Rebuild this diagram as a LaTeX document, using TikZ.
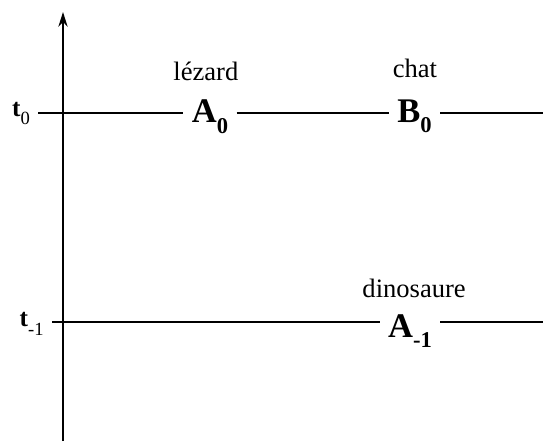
\documentclass[tikz,border=0pt]{standalone}
\usepackage{fontspec}
\setmainfont{Liberation Serif}
\usetikzlibrary{arrows.meta}

\newcommand{\evsub}[1]{\raisebox{-8pt}{\fontsize{17}{17}\selectfont #1}}
\newcommand{\tsub}[1]{\raisebox{-6.5pt}{\fontsize{14}{14}\selectfont\mdseries #1}}

\tikzset{
  event/.style={font=\fontsize{26}{26}\selectfont\bfseries, anchor=base, inner xsep=6pt, inner ysep=1pt},
  species/.style={font=\fontsize{20}{20}\selectfont, anchor=base, inner ysep=1pt},
  timelbl/.style={font=\fontsize{19}{19}\selectfont\bfseries, anchor=base, inner xsep=6pt}
}

\begin{document}
\begin{tikzpicture}[thick]
        \useasboundingbox (-1.667,-8.679) rectangle (12.70,2.990);

        % ==========================================
        % Time axis
        % ==========================================
        \coordinate (axbot) at (0,-8.68);
        \coordinate (axtop) at (0,2.67);
        \draw[very thick, -{Stealth[length=11pt,width=7pt]}] (axbot) -- (axtop);

        % ==========================================
        % Present: t_0
        % ==========================================
        \coordinate (row0) at (0,0);
        \node[timelbl] (t0) at (-1.11,-0.08) {t\tsub{0}};
        \node[event] (A0) at (3.89,-0.26) {A\evsub{0}};
        \node[event] (B0) at (9.30,-0.24) {B\evsub{0}};
        \coordinate (end0) at (12.70,0);

        \node[species] (lez) at (3.78,0.85) {lézard};
        \node[species] (chat) at (9.31,0.95) {chat};

        \draw (t0.east |- row0) -- (A0.west |- row0);
        \draw (A0.east |- row0) -- (B0.west |- row0);
        \draw (B0.east |- row0) -- (end0);

        % ==========================================
        % Past: t_{-1}
        % ==========================================
        \coordinate (row1) at (0,-5.53);
        \node[timelbl] (t1) at (-0.83,-5.66) {t\tsub{-1}};
        \node[event] (A1) at (9.18,-5.93) {A\evsub{-1}};
        \coordinate (end1) at (12.70,-5.53);

        \node[species] (dino) at (9.29,-4.87) {dinosaure};

        \draw (t1.east |- row1) -- (A1.west |- row1);
        \draw (A1.east |- row1) -- (end1);

\end{tikzpicture}
\end{document}
